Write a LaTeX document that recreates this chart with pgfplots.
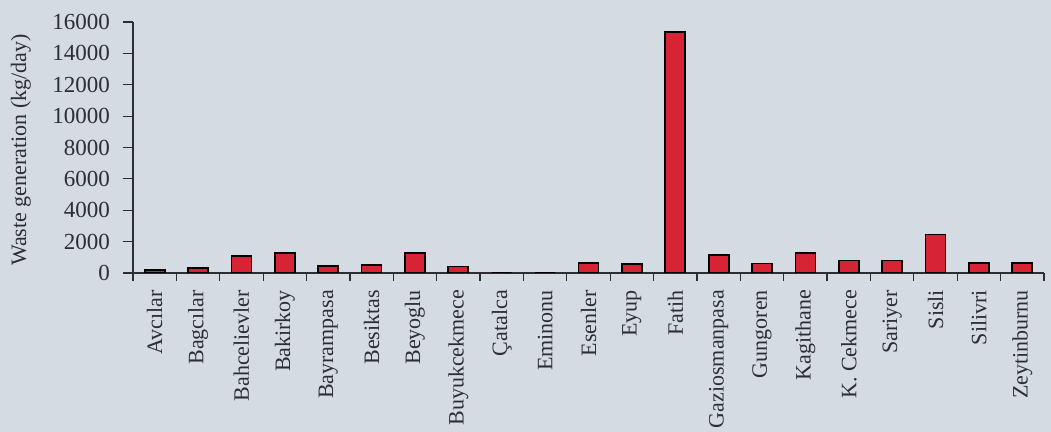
\documentclass[border=0pt]{standalone}
\usepackage{pgfplots}
\pgfplotsset{compat=1.18}
\usepackage{fontspec}
\setmainfont{Liberation Serif}
\definecolor{bgc}{RGB}{212,219,226}
\definecolor{barred}{RGB}{214,36,52}
\definecolor{ink}{RGB}{45,45,50}
\begin{document}
\begin{tikzpicture}
\fill[bgc, use as bounding box] (-66.5pt,-79.5pt) rectangle (459pt,136.5pt);
\begin{axis}[
    at={(0,0)}, anchor=south west,
    scale only axis,
    width=455.5pt, height=125.5pt,
    axis lines*=left,
    axis line style={ink, line width=0.6pt},
    ybar,
    bar width=10pt,
    xmin=-0.5, xmax=20.5,
    ymin=0, ymax=16000,
    ytick={0,2000,...,16000},
    scaled y ticks=false,
    xtick={0,1,...,20},
    xticklabels={Avcılar, Bagcılar, Bahcelievler, Bakirkoy, Bayrampasa, Besiktas, Beyoglu, Buyukcekmece, Çatalca, Eminonu, Esenler, Eyup, Fatih, Gaziosmanpasa, Gungoren, Kagithane, {K. Cekmece}, Sariyer, Sisli, Silivri, Zeytinburnu},
    minor xtick={-0.5,0.5,...,20.5},
    major x tick style={draw=none},
    minor x tick style={ink, line width=0.6pt},
    minor tick length=4pt,
    y tick style={ink, line width=0.6pt},
    major tick length=5pt,
    tick align=outside,
    xticklabel style={rotate=90, anchor=east, font=\fontsize{11}{12}\selectfont, text=ink},
    yticklabel style={font=\fontsize{11.5}{12}\selectfont, text=ink, xshift=-3pt},
    /pgf/number format/assume math mode=true,
    /pgf/number format/1000 sep={},
    ylabel={Waste generation (kg/day)},
    ylabel style={at={(axis description cs:-0.123,0.49)}, anchor=center,
                  font=\fontsize{11}{12}\selectfont, text=ink},
]
\addplot[fill=barred, draw=black, line width=0.9pt] coordinates {
    (0,200) (1,330) (2,1080) (3,1270) (4,450) (5,500) (6,1270)
    (7,420) (8,0) (9,0) (10,650) (11,550) (12,15350) (13,1150)
    (14,600) (15,1250) (16,800) (17,800) (18,2450) (19,650) (20,650)
};
\end{axis}
\end{tikzpicture}
\end{document}
